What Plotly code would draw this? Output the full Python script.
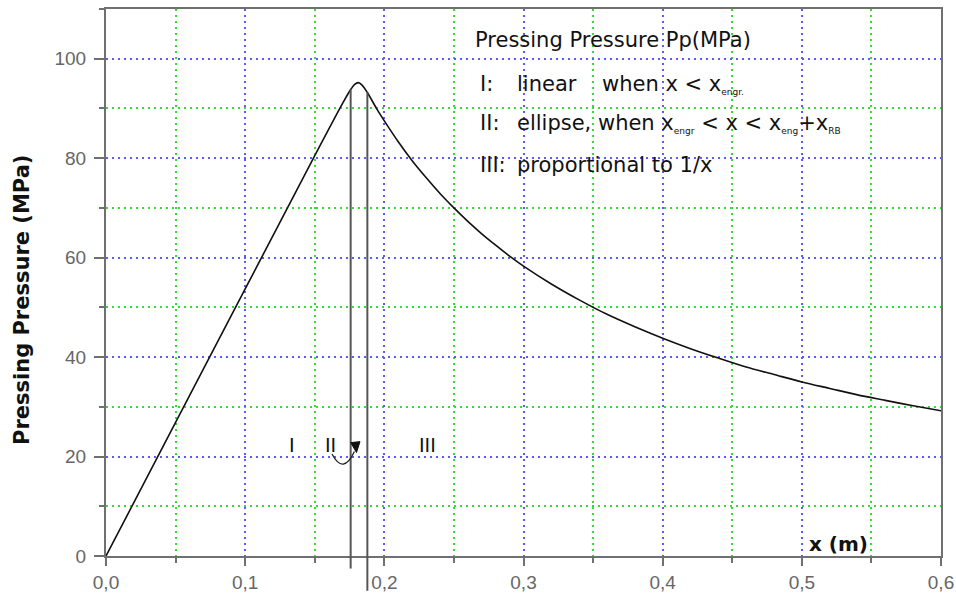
import plotly.graph_objects as go

# ---- data ----
x_m = [0.0, 0.05, 0.10, 0.15, 0.170, 0.1758, 0.1785, 0.1813, 0.184, 0.1878,
       0.195, 0.20, 0.21, 0.22, 0.23, 0.24, 0.25, 0.26, 0.27, 0.28, 0.29,
       0.30, 0.32, 0.34, 0.36, 0.38, 0.40, 0.42, 0.44, 0.46, 0.48,
       0.50, 0.52, 0.54, 0.56, 0.58, 0.60]
pressure_mpa = [0.0, 26.85, 53.7, 80.5, 91.0, 93.8, 94.8, 95.2, 94.7, 93.2,
                89.7, 87.5, 83.3, 79.5, 76.1, 72.9, 70.0, 67.3, 64.8, 62.5, 60.3,
                58.3, 54.7, 51.5, 48.6, 46.1, 43.8, 41.7, 39.8, 38.0, 36.5,
                35.0, 33.7, 32.4, 31.3, 30.2, 29.2]

# boundary markers between regions I/II and II/III (x position, top, bottom)
boundary_x = [0.1758, 0.1878]
boundary_top = [93.8, 93.2]
boundary_bottom = [-2.5, -7.0]

region_labels = ["I", "II", "III"]
region_label_x = [0.1337, 0.161, 0.2307]
region_label_y = [22.3, 22.3, 22.3]

x_ticks = [0.0, 0.1, 0.2, 0.3, 0.4, 0.5, 0.6]
y_ticks = [0, 20, 40, 60, 80, 100]

X_RANGE = [0, 0.6]
Y_RANGE = [0, 110]

W, H = 956, 594
ML, MR, MT, MB = 106, 15, 9, 38
PW, PH = W - ML - MR, H - MT - MB


def px_to_paper_x(px):
    return (px - ML) / PW


def py_to_paper_y(py):
    return (H - MB - py) / PH


fig = go.Figure()
fig.add_trace(go.Scatter(
    x=x_m, y=pressure_mpa, mode="lines",
    line=dict(color="#111111", width=1.6, shape="spline", smoothing=0.8),
    hoverinfo="x+y", showlegend=False,
))

shapes = []
for bx, bt, bb in zip(boundary_x, boundary_top, boundary_bottom):
    shapes.append(dict(
        type="line", xref="paper", yref="paper",
        x0=(bx - X_RANGE[0]) / (X_RANGE[1] - X_RANGE[0]),
        x1=(bx - X_RANGE[0]) / (X_RANGE[1] - X_RANGE[0]),
        y0=(bt - Y_RANGE[0]) / (Y_RANGE[1] - Y_RANGE[0]),
        y1=(bb - Y_RANGE[0]) / (Y_RANGE[1] - Y_RANGE[0]),
        line=dict(color="#555555", width=2),
    ))
# small curved arrow from "II" to the boundary
shapes.append(dict(
    type="path", xref="x", yref="y",
    path="M 0.1624 20.5 Q 0.1705 16.2 0.1785 21.0",
    line=dict(color="#222222", width=1.3),
))
shapes.append(dict(
    type="path", xref="x", yref="y",
    path="M 0.1758 22.8 L 0.1825 23.0 L 0.1800 20.8 Z",
    fillcolor="#111111", line=dict(color="#111111", width=1),
))

annotations = []
for lab, lx, ly in zip(region_labels, region_label_x, region_label_y):
    annotations.append(dict(
        x=lx, y=ly, xref="x", yref="y", text=lab, showarrow=False,
        font=dict(family="DejaVu Sans", size=19, color="#111111"),
    ))

legend_font = dict(family="DejaVu Sans", size=21, color="#111111")
sub = '<sub><span style="font-size:9px">{}</span></sub>'
legend_items = [
    (473, 39.5, "Pressing Pressure Pp(MPa)"),
    (478, 84, "I:"),
    (515, 84, "linear"),
    (600, 84, "when x &lt; x" + sub.format("engr.")),
    (478, 123, "II:"),
    (515, 123, "ellipse, when x" + sub.format("engr") + " &lt; x &lt; x"
     + sub.format("eng") + "+x" + sub.format("RB")),
    (478, 165, "III:"),
    (515, 165, "proportional to 1/x"),
]
for px, py, txt in legend_items:
    annotations.append(dict(
        x=px_to_paper_x(px), y=py_to_paper_y(py), xref="paper", yref="paper",
        text=txt, showarrow=False, xanchor="left", yanchor="middle",
        font=legend_font,
    ))

# axis titles
annotations.append(dict(
    x=0.5262, y=0, xref="x", yref="y", text="<b>x (m)</b>", showarrow=False,
    xanchor="center", yanchor="bottom", yshift=-2,
    font=dict(family="DejaVu Sans", size=20, color="#111111"),
))
annotations.append(dict(
    x=px_to_paper_x(22), y=py_to_paper_y(300), xref="paper", yref="paper",
    text="<b>Pressing Pressure (MPa)</b>", showarrow=False, textangle=-90,
    xanchor="center", yanchor="middle",
    font=dict(family="DejaVu Sans", size=21, color="#111111"),
))

axis_common = dict(
    showline=True, linecolor="#707070", linewidth=2, mirror=True,
    ticks="outside", tickcolor="#707070", tickwidth=2,
    showgrid=True, gridcolor="#5a5aff", gridwidth=1.5, griddash="2px,4px",
    tickfont=dict(family="Liberation Sans, Arial", size=19, color="#666666"),
    zeroline=False, automargin=False,
)

fig.update_layout(
    width=W, height=H,
    margin=dict(l=ML, r=MR, t=MT, b=MB, autoexpand=False),
    paper_bgcolor="white", plot_bgcolor="white",
    separators=", ",
    showlegend=False,
    shapes=shapes,
    annotations=annotations,
    xaxis=dict(
        range=X_RANGE, tickvals=x_ticks, tickformat=".1f", ticklen=8,
        minor=dict(dtick=0.05, showgrid=True, gridcolor="#33dd33",
                   gridwidth=1.5, griddash="2px,4px", ticks="outside",
                   ticklen=5, tickcolor="#707070", tickwidth=2),
        **axis_common,
    ),
    yaxis=dict(
        range=Y_RANGE, tickvals=y_ticks, ticklen=10, ticklabelstandoff=4,
        minor=dict(dtick=10, showgrid=True, gridcolor="#33dd33",
                   gridwidth=1.5, griddash="2px,4px", ticks="outside",
                   ticklen=5, tickcolor="#707070", tickwidth=2),
        **axis_common,
    ),
)

fig.write_html(
    "out.html",
    config={"displayModeBar": False},
    post_script="document.body.style.margin='0px';"
                "document.body.style.overflow='hidden';",
)
